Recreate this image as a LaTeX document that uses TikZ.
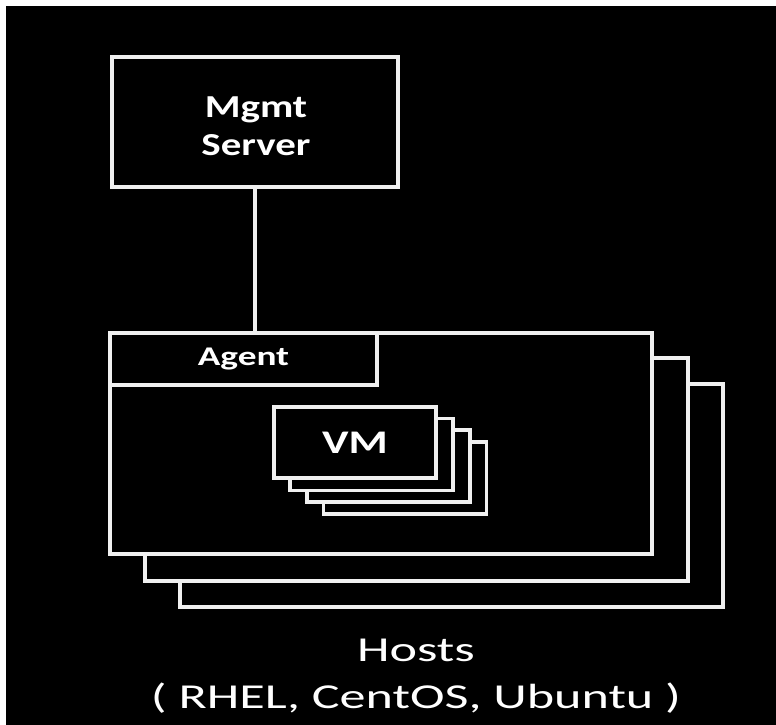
\documentclass[tikz,border=0pt]{standalone}
\usepackage{graphicx}
\usepackage{fontspec}
\setmainfont{Carlito}
\newcommand{\stretchx}[2]{\scalebox{#1}[1]{#2}}
\begin{document}
\begin{tikzpicture}[x=1pt,y=-1pt,
  wire/.style={draw=white!94!black,line width=3.6pt},
  box/.style={wire,fill=black,rectangle,inner sep=0pt,text=white},
  label/.style={text=white,inner sep=0pt,align=center}]
\useasboundingbox (0,0) rectangle (776,725);
\fill[white] (0,0) rectangle (776,725);
\fill[black] (6,6) rectangle (776,725);
% hosts (back to front)
\node[box,minimum width=543pt,minimum height=223pt] (h3) at (451.5,495.5) {};
\node[box,minimum width=543pt,minimum height=223pt] (h2) at (416.5,469.5) {};
\node[box,minimum width=542pt,minimum height=221pt] (h1) at (381,443.5) {};
% agent
\node[box,minimum width=267pt,minimum height=52pt,anchor=north west,
  font=\fontsize{27}{30}\selectfont\bfseries] (agent) at (h1.north west)
  {\stretchx{1.38}{Agent}};
% VMs
\node[box,minimum width=163pt,minimum height=72pt] (vm4) at (405,478) {};
\node[box,minimum width=163pt,minimum height=72pt] (vm3) at (388.3,466.2) {};
\node[box,minimum width=163pt,minimum height=72pt] (vm2) at (371.7,454.3) {};
\node[box,minimum width=162pt,minimum height=71pt,
  font=\fontsize{33}{38}\selectfont\bfseries] (vm1) at (355,442.5)
  {\stretchx{1.36}{VM}};
% management server
\node[box,minimum width=286pt,minimum height=130pt] (mgmt) at (255,122) {};
\node[label,font=\fontsize{32}{38}\selectfont\bfseries] (mgmtlbl) at (256,126)
  {\stretchx{1.28}{Mgmt}\\\stretchx{1.28}{Server}};
\draw[wire] (mgmt.south) -- (mgmt.south |- agent.north);
% caption
\node[label,font=\fontsize{35}{47}\selectfont] (hosts) at (416,676)
  {\stretchx{1.49}{Hosts}\\\stretchx{1.49}{( RHEL, CentOS, Ubuntu )}};
\end{tikzpicture}
\end{document}
